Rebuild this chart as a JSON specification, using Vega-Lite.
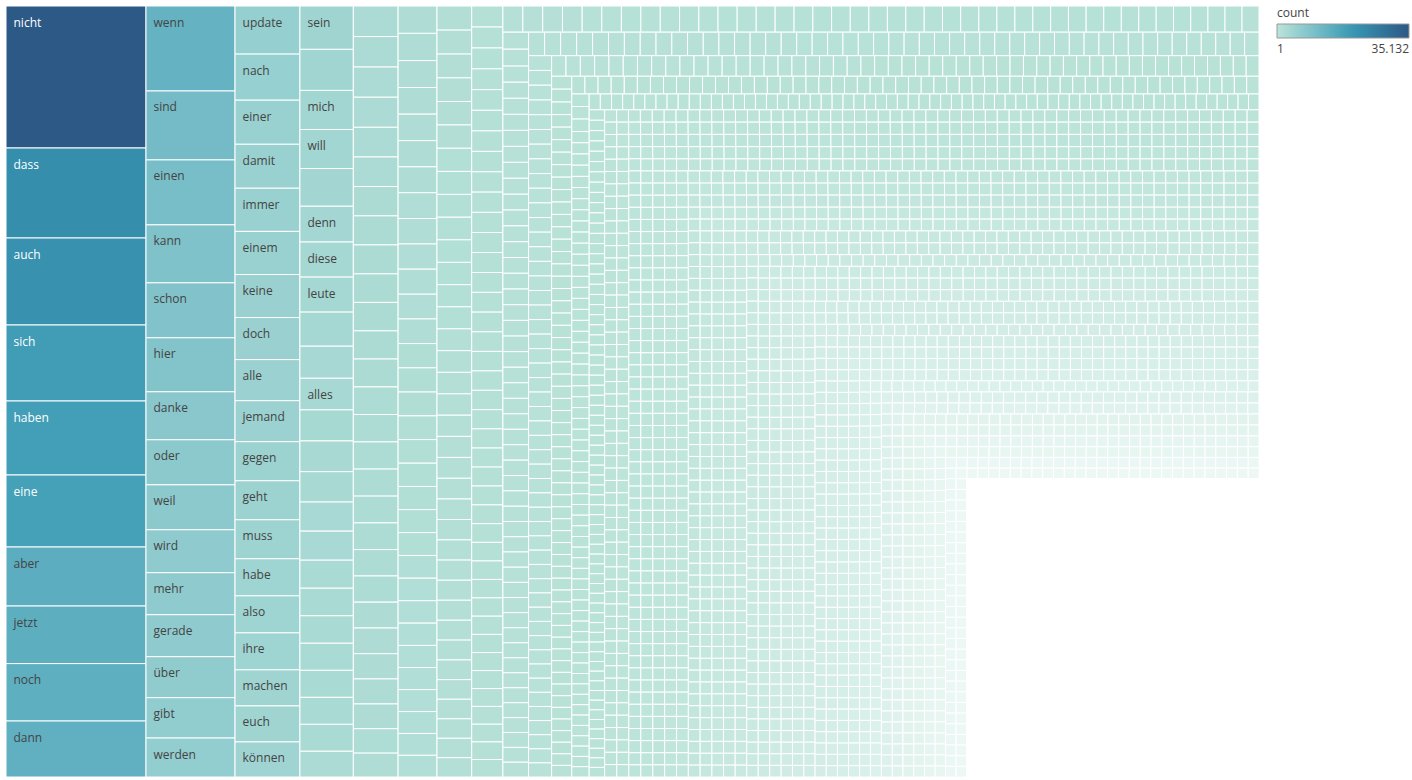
{
"$schema": "https://vega.github.io/schema/vega-lite/v6.json",
"width": 1253, "height": 771,
"padding": {"left": 5, "top": 5, "right": 0, "bottom": 0},
"autosize": {"type": "pad"},
"background": "white",
"config": {"view": {"stroke": null}, "font": "Open Sans"},
"data": {"values": [
{"w":"nicht","c":35132,"s":1},{"w":"dass","c":22266},{"w":"auch","c":21524},{"w":"sich","c":18802},{"w":"haben","c":18308},{"w":"eine","c":17813},{"w":"aber","c":14600},{"w":"jetzt","c":14250},{"w":"noch","c":14200},{"w":"dann","c":13850},
{"w":"wenn","c":13370,"s":2},{"w":"sind","c":10850},{"w":"einen","c":10220},{"w":"kann","c":9120},{"w":"schon","c":8650},{"w":"hier","c":8490},{"w":"danke","c":7550},{"w":"oder","c":7090},{"w":"weil","c":7070},{"w":"wird","c":6760},{"w":"mehr","c":6610},{"w":"gerade","c":6600},{"w":"über","c":6450},{"w":"gibt","c":6350},{"w":"werden","c":6130},
{"w":"update","c":5515,"s":3},{"w":"nach","c":5285},{"w":"einer","c":5056},{"w":"damit","c":5040},{"w":"immer","c":4950},{"w":"einem","c":4945},{"w":"keine","c":4930},{"w":"doch","c":4826},{"w":"alle","c":4711},{"w":"jemand","c":4700},{"w":"gegen","c":4481},{"w":"geht","c":4475},{"w":"muss","c":4470},{"w":"habe","c":4251},{"w":"also","c":4245},{"w":"ihre","c":4240},{"w":"machen","c":4136},{"w":"euch","c":4130},{"w":"können","c":4021},
{"w":"sein","c":4090,"s":4},{"c":3875},{"w":"mich","c":3690},{"w":"will","c":3680},{"c":3560},{"w":"denn","c":3375},{"w":"diese","c":3310},{"w":"leute","c":3305},{"c":3215},{"c":3025},{"w":"alles","c":2985},{"c":2930},{"c":2900},{"c":2865},{"c":2745},{"c":2740},{"c":2645},{"c":2600},{"c":2595},{"c":2555},{"c":2550},{"c":2545},{"c":2540},{"c":2430},
{"c":2420,"s":5},{"c":2410},{"c":2390},{"c":2380},{"c":2350},{"c":2340},{"c":2320},{"c":2300},{"c":2290},{"c":2260},{"c":2250},{"c":2230},{"c":2210},{"c":2180},{"c":2170},{"c":2150},{"c":2140},{"c":2120},{"c":2110},{"c":2090},{"c":2070},{"c":2050},{"c":2030},{"c":2000},{"c":1980},{"c":1960},{"c":1930},{"c":1890},
{"c":1880,"s":6},{"c":1870},{"c":1850},{"c":1830},{"c":1820},{"c":1800},{"c":1780},{"c":1770},{"c":1750},{"c":1730},{"c":1720},{"c":1700},{"c":1690},{"c":1670},{"c":1660},{"c":1640},{"c":1630},{"c":1620},{"c":1600},{"c":1590},{"c":1580},{"c":1570},{"c":1560},{"c":1550},{"c":1540},{"c":1530},{"c":1520},{"c":1515},{"c":1510},{"c":1505},{"c":1500},{"c":1490},
{"c":1480,"s":7},{"c":1470},{"c":1460},{"c":1450},{"c":1440},{"c":1430},{"c":1420},{"c":1410},{"c":1400},{"c":1390},{"c":1380},{"c":1370},{"c":1360},{"c":1350},{"c":1340},{"c":1330},{"c":1320},{"c":1310},{"c":1300},{"c":1290},{"c":1280},{"c":1270},{"c":1260},{"c":1250},{"c":1240},{"c":1235},{"c":1230},{"c":1225},{"c":1220},{"c":1215},{"c":1210},{"c":1205},{"c":1200},{"c":1195},{"c":1190},{"c":1185},
{"c":1160,"s":8},{"c":1155},{"c":1150},{"c":1145},{"c":1140},{"c":1135},{"c":1130},{"c":1125},{"c":1120},{"c":1115},{"c":1110},{"c":1105},{"c":1100},{"c":1095},{"c":1090},{"c":1085},{"c":1080},{"c":1075},{"c":1070},{"c":1065},{"c":1060},{"c":1055},{"c":1050},{"c":1045},{"c":1040},{"c":1035},{"c":1030},{"c":1025},{"c":1020},{"c":1015},{"c":1010},{"c":1005},{"c":1000},{"c":995},{"c":990},{"c":985},{"c":980},{"c":975},{"c":970},{"c":965},
{"c":917,"s":9},{"c":913},{"c":910},{"c":906},{"c":903},{"c":900},{"c":896},{"c":893},{"c":889},{"c":886},{"c":882},{"c":879},{"c":876},{"c":872},{"c":869},{"c":865},{"c":862},{"c":858},{"c":855},{"c":852},{"c":848},{"c":845},{"c":841},{"c":838},{"c":834},{"c":831},{"c":828},{"c":824},{"c":821},{"c":817},{"c":814},{"c":810},{"c":807},{"c":804},{"c":800},{"c":797},{"c":793},{"c":790},{"c":786},{"c":783},{"c":780},{"c":776},{"c":772},
{"c":735},{"c":734},{"c":732},{"c":731},{"c":730},{"c":728},{"c":727},{"c":726},{"c":724},{"c":723},{"c":722},{"c":720},{"c":719},{"c":718},{"c":716},{"c":715},{"c":714},{"c":712},{"c":711},{"c":710},{"c":708},{"c":707},{"c":706},{"c":704},{"c":703},{"c":702},{"c":700},{"c":699},{"c":698},{"c":696},{"c":695},{"c":694},{"c":692},{"c":691},{"c":690},{"c":688},{"c":687},{"c":686},{"c":684},{"c":683},{"c":682},{"c":680},{"c":679},{"c":678},{"c":676},{"c":675},
{"c":672,"s":10},{"c":670},{"c":669},{"c":667},{"c":666},{"c":664},{"c":663},{"c":661},{"c":660},{"c":658},{"c":657},{"c":655},{"c":654},{"c":652},{"c":651},{"c":649},{"c":648},{"c":646},{"c":645},{"c":643},{"c":642},{"c":640},{"c":639},{"c":637},{"c":636},{"c":634},{"c":633},{"c":631},{"c":630},{"c":628},{"c":627},{"c":625},{"c":624},{"c":622},{"c":621},{"c":619},{"c":618},{"c":616},{"c":615},{"c":613},{"c":612},{"c":610},{"c":609},{"c":607},{"c":606},{"c":604},{"c":603},{"c":601},
{"c":598},{"c":597},{"c":597},{"c":596},{"c":596},{"c":595},{"c":594},{"c":594},{"c":593},{"c":593},{"c":592},{"c":591},{"c":591},{"c":590},{"c":590},{"c":589},{"c":588},{"c":588},{"c":587},{"c":587},{"c":586},{"c":585},{"c":585},{"c":584},{"c":584},{"c":583},{"c":582},{"c":582},{"c":581},{"c":581},{"c":580},{"c":579},{"c":579},{"c":578},{"c":578},{"c":577},{"c":576},{"c":576},{"c":575},{"c":575},{"c":574},{"c":573},{"c":573},{"c":572},{"c":572},{"c":571},{"c":571},{"c":570},{"c":570},{"c":570},
{"c":520,"s":11},{"c":519},{"c":518},{"c":517},{"c":516},{"c":515},{"c":513},{"c":512},{"c":511},{"c":510},{"c":509},{"c":508},{"c":507},{"c":506},{"c":505},{"c":504},{"c":502},{"c":501},{"c":500},{"c":499},{"c":498},{"c":497},{"c":496},{"c":495},{"c":494},{"c":493},{"c":491},{"c":490},{"c":489},{"c":488},{"c":487},{"c":486},{"c":485},{"c":484},{"c":483},{"c":482},{"c":480},{"c":479},{"c":478},{"c":477},{"c":476},{"c":475},{"c":474},{"c":473},{"c":472},{"c":471},{"c":469},{"c":468},{"c":467},{"c":466},{"c":465},{"c":464},{"c":463},{"c":461},
{"c":450},{"c":449},{"c":449},{"c":448},{"c":447},{"c":447},{"c":446},{"c":445},{"c":445},{"c":444},{"c":443},{"c":443},{"c":442},{"c":441},{"c":441},{"c":440},{"c":439},{"c":439},{"c":438},{"c":437},{"c":437},{"c":436},{"c":435},{"c":435},{"c":434},{"c":433},{"c":433},{"c":432},{"c":431},{"c":431},{"c":430},{"c":429},{"c":429},{"c":428},{"c":427},{"c":427},{"c":426},{"c":425},{"c":425},{"c":424},{"c":423},{"c":423},{"c":422},{"c":421},{"c":421},{"c":420},{"c":419},{"c":419},{"c":418},{"c":417},{"c":417},{"c":416},{"c":416},{"c":415},{"c":415},{"c":415},
{"c":412,"s":12},{"c":412},{"c":411},{"c":411},{"c":410},{"c":410},{"c":409},{"c":409},{"c":408},{"c":408},{"c":407},{"c":407},{"c":406},{"c":406},{"c":405},{"c":405},{"c":404},{"c":404},{"c":403},{"c":403},{"c":402},{"c":402},{"c":401},{"c":401},{"c":400},{"c":400},{"c":399},{"c":399},{"c":398},{"c":398},{"c":397},{"c":397},{"c":396},{"c":396},{"c":395},{"c":395},{"c":394},{"c":394},{"c":393},{"c":393},{"c":392},{"c":392},{"c":391},{"c":391},{"c":390},{"c":390},{"c":389},{"c":389},{"c":388},{"c":388},{"c":387},{"c":387},{"c":386},{"c":386},{"c":385},{"c":385},{"c":384},
{"c":345},{"c":345},{"c":344},{"c":344},{"c":343},{"c":343},{"c":342},{"c":342},{"c":341},{"c":341},{"c":340},{"c":340},{"c":339},{"c":339},{"c":338},{"c":338},{"c":337},{"c":337},{"c":336},{"c":336},{"c":335},{"c":335},{"c":334},{"c":334},{"c":333},{"c":333},{"c":332},{"c":332},{"c":331},{"c":331},{"c":330},{"c":330},{"c":329},{"c":329},{"c":328},{"c":328},{"c":327},{"c":327},{"c":326},{"c":326},{"c":325},{"c":325},{"c":324},{"c":324},{"c":323},{"c":323},{"c":322},{"c":322},{"c":321},{"c":321},{"c":320},{"c":320},{"c":319},{"c":319},{"c":318},{"c":318},{"c":317},{"c":317},{"c":316},{"c":316},
{"c":310,"s":13},{"c":310},{"c":309},{"c":309},{"c":309},{"c":308},{"c":308},{"c":308},{"c":307},{"c":307},{"c":307},{"c":306},{"c":306},{"c":306},{"c":305},{"c":305},{"c":305},{"c":304},{"c":304},{"c":304},{"c":303},{"c":303},{"c":303},{"c":302},{"c":302},{"c":302},{"c":301},{"c":301},{"c":301},{"c":300},{"c":300},{"c":300},{"c":299},{"c":299},{"c":299},{"c":298},{"c":298},{"c":298},{"c":297},{"c":297},{"c":297},{"c":296},{"c":296},{"c":296},{"c":295},{"c":295},{"c":295},{"c":294},{"c":294},{"c":294},{"c":293},{"c":293},{"c":293},{"c":292},{"c":292},{"c":292},{"c":291},{"c":291},{"c":291},{"c":290},{"c":290},{"c":290},{"c":289},
{"c":285},{"c":285},{"c":285},{"c":284},{"c":284},{"c":284},{"c":283},{"c":283},{"c":283},{"c":282},{"c":282},{"c":282},{"c":281},{"c":281},{"c":281},{"c":280},{"c":280},{"c":280},{"c":279},{"c":279},{"c":279},{"c":278},{"c":278},{"c":278},{"c":277},{"c":277},{"c":277},{"c":276},{"c":276},{"c":276},{"c":275},{"c":275},{"c":275},{"c":274},{"c":274},{"c":274},{"c":273},{"c":273},{"c":273},{"c":272},{"c":272},{"c":272},{"c":271},{"c":271},{"c":271},{"c":270},{"c":270},{"c":270},{"c":269},{"c":269},{"c":269},{"c":268},{"c":268},{"c":268},{"c":267},{"c":267},{"c":267},{"c":266},{"c":266},{"c":266},{"c":265},{"c":265},{"c":265},{"c":264},{"c":264},{"c":264},
{"c":262,"s":14},{"c":262},{"c":262},{"c":262},{"c":262},{"c":262},{"c":262},{"c":262},{"c":262},{"c":262},
{"c":262},{"c":262},{"c":262},{"c":262},{"c":262},{"c":262},{"c":262},{"c":262},{"c":262},{"c":262},
{"c":262},{"c":262},{"c":262},{"c":262},{"c":262},{"c":262},{"c":262},{"c":262},{"c":262},{"c":262},
{"c":262},{"c":262},{"c":262},{"c":262},{"c":262},{"c":262},{"c":262},{"c":262},{"c":262},{"c":262},
{"c":262},{"c":262},{"c":262},{"c":262},{"c":262},{"c":262},{"c":262},{"c":262},{"c":262},{"c":262},
{"c":262},{"c":262},{"c":262},{"c":262},{"c":262},{"c":262},{"c":262},{"c":262},{"c":262},{"c":262},
{"c":262},{"c":262},{"c":262},{"c":262},{"c":262},{"c":262},{"c":262},{"c":262},{"c":262},{"c":262},
{"c":262},{"c":262},{"c":262},{"c":262},{"c":262},{"c":262},{"c":262},{"c":262},{"c":262},{"c":262},
{"c":262},{"c":262},{"c":262},{"c":262},{"c":262},{"c":262},{"c":262},{"c":262},{"c":262},{"c":262},
{"c":262},{"c":262},{"c":262},{"c":262},{"c":262},{"c":262},{"c":262},{"c":262},{"c":262},{"c":262},
{"c":262},{"c":262},{"c":262},{"c":262},{"c":262},{"c":262},{"c":262},{"c":262},
{"c":260,"s":15},{"c":260},{"c":260},{"c":260},{"c":260},{"c":260},{"c":260},{"c":260},{"c":260},{"c":260},
{"c":260},{"c":260},{"c":260},{"c":260},{"c":260},{"c":260},{"c":260},{"c":260},{"c":260},{"c":260},
{"c":260},{"c":260},{"c":260},{"c":260},{"c":260},{"c":260},{"c":260},{"c":260},{"c":260},{"c":260},
{"c":260},{"c":260},{"c":260},{"c":260},{"c":260},{"c":260},{"c":260},{"c":260},{"c":260},{"c":260},
{"c":260},{"c":260},{"c":260},{"c":260},{"c":260},{"c":260},{"c":260},{"c":260},{"c":260},{"c":260},
{"c":260},{"c":260},{"c":260},{"c":260},{"c":260},{"c":260},{"c":260},{"c":260},{"c":260},{"c":260},
{"c":260},{"c":260},{"c":260},{"c":260},{"c":260},{"c":260},{"c":260},{"c":260},{"c":260},{"c":260},
{"c":260},{"c":260},{"c":260},{"c":260},{"c":260},{"c":260},{"c":260},{"c":260},{"c":260},{"c":260},
{"c":260},{"c":260},{"c":260},{"c":260},{"c":260},{"c":260},{"c":260},{"c":260},{"c":260},{"c":260},
{"c":260},{"c":260},{"c":260},{"c":260},{"c":260},{"c":260},{"c":260},{"c":260},{"c":260},{"c":260},
{"c":260},{"c":260},{"c":260},{"c":260},{"c":260},{"c":260},
{"c":258,"s":16},{"c":258},{"c":258},{"c":258},{"c":258},{"c":258},{"c":258},{"c":258},{"c":258},{"c":258},
{"c":258},{"c":258},{"c":258},{"c":258},{"c":258},{"c":258},{"c":258},{"c":258},{"c":258},{"c":258},
{"c":258},{"c":258},{"c":258},{"c":258},{"c":258},{"c":258},{"c":258},{"c":258},{"c":258},{"c":258},
{"c":258},{"c":258},{"c":258},{"c":258},{"c":258},{"c":258},{"c":258},{"c":258},{"c":258},{"c":258},
{"c":258},{"c":258},{"c":258},{"c":258},{"c":258},{"c":258},{"c":258},{"c":258},{"c":258},{"c":258},
{"c":258},{"c":258},{"c":258},{"c":258},{"c":258},{"c":258},{"c":258},{"c":258},{"c":258},{"c":258},
{"c":258},{"c":258},{"c":258},{"c":258},{"c":258},{"c":258},{"c":258},{"c":258},{"c":258},{"c":258},
{"c":258},{"c":258},{"c":258},{"c":258},{"c":258},{"c":258},{"c":258},{"c":258},{"c":258},{"c":258},
{"c":258},{"c":258},{"c":258},{"c":258},{"c":258},{"c":258},{"c":258},{"c":258},{"c":258},{"c":258},
{"c":258},{"c":258},{"c":258},{"c":258},{"c":258},{"c":258},{"c":258},{"c":258},{"c":258},{"c":258},
{"c":258},{"c":258},{"c":258},{"c":258},{"c":258},
{"c":256,"s":17},{"c":256},{"c":256},{"c":256},{"c":256},{"c":256},{"c":256},{"c":256},{"c":256},{"c":256},
{"c":256},{"c":256},{"c":256},{"c":256},{"c":256},{"c":256},{"c":256},{"c":256},{"c":256},{"c":256},
{"c":256},{"c":256},{"c":256},{"c":256},{"c":256},{"c":256},{"c":256},{"c":256},{"c":256},{"c":256},
{"c":256},{"c":256},{"c":256},{"c":256},{"c":256},{"c":256},{"c":256},{"c":256},{"c":256},{"c":256},
{"c":256},{"c":256},{"c":256},{"c":256},{"c":256},{"c":256},{"c":256},{"c":256},{"c":256},{"c":256},
{"c":256},{"c":256},{"c":256},{"c":256},{"c":256},{"c":256},{"c":256},{"c":256},{"c":256},{"c":256},
{"c":256},{"c":256},{"c":256},{"c":256},{"c":256},{"c":256},{"c":256},{"c":256},{"c":256},{"c":256},
{"c":256},{"c":256},{"c":256},{"c":256},{"c":256},{"c":256},{"c":256},{"c":256},{"c":256},{"c":256},
{"c":256},{"c":256},{"c":256},{"c":256},{"c":256},{"c":256},{"c":256},{"c":256},{"c":256},{"c":256},
{"c":256},{"c":256},{"c":256},{"c":256},{"c":256},{"c":256},{"c":256},{"c":256},{"c":256},{"c":256},
{"c":256},{"c":256},{"c":256},
{"c":254,"s":18},{"c":254},{"c":254},{"c":254},{"c":254},{"c":254},{"c":254},{"c":254},{"c":254},{"c":254},
{"c":254},{"c":254},{"c":254},{"c":254},{"c":254},{"c":254},{"c":254},{"c":254},{"c":254},{"c":254},
{"c":254},{"c":254},{"c":254},{"c":254},{"c":254},{"c":254},{"c":254},{"c":254},{"c":254},{"c":254},
{"c":254},{"c":254},{"c":254},{"c":254},{"c":254},{"c":254},{"c":254},{"c":254},{"c":254},{"c":254},
{"c":254},{"c":254},{"c":254},{"c":254},{"c":254},{"c":254},{"c":254},{"c":254},{"c":254},{"c":254},
{"c":254},{"c":254},{"c":254},{"c":254},{"c":254},{"c":254},{"c":254},{"c":254},{"c":254},{"c":254},
{"c":254},{"c":254},{"c":254},{"c":254},{"c":254},{"c":254},{"c":254},{"c":254},{"c":254},{"c":254},
{"c":254},{"c":254},{"c":254},{"c":254},{"c":254},{"c":254},{"c":254},{"c":254},{"c":254},{"c":254},
{"c":254},{"c":254},{"c":254},{"c":254},{"c":254},{"c":254},{"c":254},{"c":254},{"c":254},{"c":254},
{"c":254},{"c":254},{"c":254},{"c":254},{"c":254},{"c":254},{"c":254},{"c":254},{"c":254},{"c":254},
{"c":254},
{"c":252,"s":19},{"c":252},{"c":252},{"c":252},{"c":252},{"c":252},{"c":252},{"c":252},{"c":252},{"c":252},
{"c":252},{"c":252},{"c":252},{"c":252},{"c":252},{"c":252},{"c":252},{"c":252},{"c":252},{"c":252},
{"c":252},{"c":252},{"c":252},{"c":252},{"c":252},{"c":252},{"c":252},{"c":252},{"c":252},{"c":252},
{"c":252},{"c":252},{"c":252},{"c":252},{"c":252},{"c":252},{"c":252},{"c":252},{"c":252},{"c":252},
{"c":252},{"c":252},{"c":252},{"c":252},{"c":252},{"c":252},{"c":252},{"c":252},{"c":252},{"c":252},
{"c":252},{"c":252},{"c":252},{"c":252},{"c":252},{"c":252},{"c":252},{"c":252},{"c":252},{"c":252},
{"c":252},{"c":252},{"c":252},{"c":252},{"c":252},{"c":252},{"c":252},{"c":252},{"c":252},{"c":252},
{"c":252},{"c":252},{"c":252},{"c":252},{"c":252},{"c":252},{"c":252},{"c":252},{"c":252},{"c":252},
{"c":252},{"c":252},{"c":252},{"c":252},{"c":252},{"c":252},{"c":252},{"c":252},{"c":252},{"c":252},
{"c":252},{"c":252},{"c":252},{"c":252},{"c":252},{"c":252},{"c":252},{"c":252},{"c":252},{"c":252},
{"c":250,"s":20},{"c":250},{"c":250},{"c":250},{"c":250},{"c":250},{"c":250},{"c":250},{"c":250},{"c":250},
{"c":250},{"c":250},{"c":250},{"c":250},{"c":250},{"c":250},{"c":250},{"c":250},{"c":250},{"c":250},
{"c":250},{"c":250},{"c":250},{"c":250},{"c":250},{"c":250},{"c":250},{"c":250},{"c":250},{"c":250},
{"c":250},{"c":250},{"c":250},{"c":250},{"c":250},{"c":250},{"c":250},{"c":250},{"c":250},{"c":250},
{"c":250},{"c":250},{"c":250},{"c":250},{"c":250},{"c":250},{"c":250},{"c":250},{"c":250},{"c":250},
{"c":250},{"c":250},{"c":250},{"c":250},{"c":250},{"c":250},{"c":250},{"c":250},{"c":250},{"c":250},
{"c":250},{"c":250},{"c":250},{"c":250},{"c":250},{"c":250},{"c":250},{"c":250},{"c":250},{"c":250},
{"c":250},{"c":250},{"c":250},{"c":250},{"c":250},{"c":250},{"c":250},{"c":250},{"c":250},{"c":250},
{"c":250},{"c":250},{"c":250},{"c":250},{"c":250},{"c":250},{"c":250},{"c":250},{"c":250},{"c":250},
{"c":250},{"c":250},{"c":250},{"c":250},{"c":250},{"c":250},{"c":250},{"c":250},
{"c":248,"s":21},{"c":248},{"c":248},{"c":248},{"c":248},{"c":248},{"c":248},{"c":248},{"c":248},{"c":248},
{"c":248},{"c":248},{"c":248},{"c":248},{"c":248},{"c":248},{"c":248},{"c":248},{"c":248},{"c":248},
{"c":248},{"c":248},{"c":248},{"c":248},{"c":248},{"c":248},{"c":248},{"c":248},{"c":248},{"c":248},
{"c":248},{"c":248},{"c":248},{"c":248},{"c":248},{"c":248},{"c":248},{"c":248},{"c":248},{"c":248},
{"c":248},{"c":248},{"c":248},{"c":248},{"c":248},{"c":248},{"c":248},{"c":248},{"c":248},{"c":248},
{"c":248},{"c":248},{"c":248},{"c":248},{"c":248},{"c":248},{"c":248},{"c":248},{"c":248},{"c":248},
{"c":248},{"c":248},{"c":248},{"c":248},{"c":248},{"c":248},{"c":248},{"c":248},{"c":248},{"c":248},
{"c":248},{"c":248},{"c":248},{"c":248},{"c":248},{"c":248},{"c":248},{"c":248},{"c":248},{"c":248},
{"c":248},{"c":248},{"c":248},{"c":248},{"c":248},{"c":248},{"c":248},{"c":248},{"c":248},{"c":248},
{"c":248},{"c":248},{"c":248},{"c":248},{"c":248},{"c":248},{"c":248},
{"c":246,"s":22},{"c":246},{"c":246},{"c":246},{"c":246},{"c":246},{"c":246},{"c":246},{"c":246},{"c":246},
{"c":246},{"c":246},{"c":246},{"c":246},{"c":246},{"c":246},{"c":246},{"c":246},{"c":246},{"c":246},
{"c":246},{"c":246},{"c":246},{"c":246},{"c":246},{"c":246},{"c":246},{"c":246},{"c":246},{"c":246},
{"c":246},{"c":246},{"c":246},{"c":246},{"c":246},{"c":246},{"c":246},{"c":246},{"c":246},{"c":246},
{"c":246},{"c":246},{"c":246},{"c":246},{"c":246},{"c":246},{"c":246},{"c":246},{"c":246},{"c":246},
{"c":246},{"c":246},{"c":246},{"c":246},{"c":246},{"c":246},{"c":246},{"c":246},{"c":246},{"c":246},
{"c":246},{"c":246},{"c":246},{"c":246},{"c":246},{"c":246},{"c":246},{"c":246},{"c":246},{"c":246},
{"c":246},{"c":246},{"c":246},{"c":246},{"c":246},{"c":246},{"c":246},{"c":246},{"c":246},{"c":246},
{"c":246},{"c":246},{"c":246},{"c":246},{"c":246},{"c":246},{"c":246},{"c":246},{"c":246},{"c":246},
{"c":246},{"c":246},{"c":246},{"c":246},{"c":246},
{"c":244,"s":23},{"c":244},{"c":244},{"c":244},{"c":244},{"c":244},{"c":244},{"c":244},{"c":244},{"c":244},
{"c":244},{"c":244},{"c":244},{"c":244},{"c":244},{"c":244},{"c":244},{"c":244},{"c":244},{"c":244},
{"c":244},{"c":244},{"c":244},{"c":244},{"c":244},{"c":244},{"c":244},{"c":244},{"c":244},{"c":244},
{"c":244},{"c":244},{"c":244},{"c":244},{"c":244},{"c":244},{"c":244},{"c":244},{"c":244},{"c":244},
{"c":244},{"c":244},{"c":244},{"c":244},{"c":244},{"c":244},{"c":244},{"c":244},{"c":244},{"c":244},
{"c":244},{"c":244},{"c":244},{"c":244},{"c":244},{"c":244},{"c":244},{"c":244},{"c":244},{"c":244},
{"c":244},{"c":244},{"c":244},{"c":244},{"c":244},{"c":244},{"c":244},{"c":244},{"c":244},{"c":244},
{"c":244},{"c":244},{"c":244},{"c":244},{"c":244},{"c":244},{"c":244},{"c":244},{"c":244},{"c":244},
{"c":244},{"c":244},{"c":244},{"c":244},{"c":244},{"c":244},{"c":244},{"c":244},{"c":244},{"c":244},
{"c":244},{"c":244},{"c":244},
{"c":242,"s":24},{"c":242},{"c":242},{"c":242},{"c":242},{"c":242},{"c":242},{"c":242},{"c":242},{"c":242},
{"c":242},{"c":242},{"c":242},{"c":242},{"c":242},{"c":242},{"c":242},{"c":242},{"c":242},{"c":242},
{"c":242},{"c":242},{"c":242},{"c":242},{"c":242},{"c":242},{"c":242},{"c":242},{"c":242},{"c":242},
{"c":242},{"c":242},{"c":242},{"c":242},{"c":242},{"c":242},{"c":242},{"c":242},{"c":242},{"c":242},
{"c":242},{"c":242},{"c":242},{"c":242},{"c":242},{"c":242},{"c":242},{"c":242},{"c":242},{"c":242},
{"c":242},{"c":242},{"c":242},{"c":242},{"c":242},{"c":242},{"c":242},{"c":242},{"c":242},{"c":242},
{"c":242},{"c":242},{"c":242},{"c":242},{"c":242},{"c":242},{"c":242},{"c":242},{"c":242},{"c":242},
{"c":242},{"c":242},{"c":242},{"c":242},{"c":242},{"c":242},{"c":242},{"c":242},{"c":242},{"c":242},
{"c":242},{"c":242},{"c":242},{"c":242},{"c":242},{"c":242},{"c":242},{"c":242},{"c":242},{"c":242},
{"c":242},{"c":242},
{"c":240,"s":25},{"c":240},{"c":240},{"c":240},{"c":240},{"c":240},{"c":240},{"c":240},{"c":240},{"c":240},
{"c":240},{"c":240},{"c":240},{"c":240},{"c":240},{"c":240},{"c":240},{"c":240},{"c":240},{"c":240},
{"c":240},{"c":240},{"c":240},{"c":240},{"c":240},{"c":240},{"c":240},{"c":240},{"c":240},{"c":240},
{"c":240},{"c":240},{"c":240},{"c":240},{"c":240},{"c":240},{"c":240},{"c":240},{"c":240},{"c":240},
{"c":240},{"c":240},{"c":240},{"c":240},{"c":240},{"c":240},{"c":240},{"c":240},{"c":240},{"c":240},
{"c":240},{"c":240},{"c":240},{"c":240},{"c":240},{"c":240},{"c":240},{"c":240},{"c":240},{"c":240},
{"c":240},{"c":240},{"c":240},{"c":240},{"c":240},{"c":240},{"c":240},{"c":240},{"c":240},{"c":240},
{"c":240},{"c":240},{"c":240},{"c":240},{"c":240},{"c":240},{"c":240},{"c":240},{"c":240},{"c":240},
{"c":240},{"c":240},{"c":240},{"c":240},{"c":240},{"c":240},{"c":240},{"c":240},{"c":240},{"c":240},
{"c":238,"s":26},{"c":238},{"c":238},{"c":238},{"c":238},{"c":238},{"c":238},{"c":238},{"c":238},{"c":238},
{"c":238},{"c":238},{"c":238},{"c":238},{"c":238},{"c":238},{"c":238},{"c":238},{"c":238},{"c":238},
{"c":238},{"c":238},{"c":238},{"c":238},{"c":238},{"c":238},{"c":238},{"c":238},{"c":238},{"c":238},
{"c":238},{"c":238},{"c":238},{"c":238},{"c":238},{"c":238},{"c":238},{"c":238},{"c":238},{"c":238},
{"c":238},{"c":238},{"c":238},{"c":238},{"c":238},{"c":238},{"c":238},{"c":238},{"c":238},{"c":238},
{"c":238},{"c":238},{"c":238},{"c":238},{"c":238},{"c":238},{"c":238},{"c":238},{"c":238},{"c":238},
{"c":238},{"c":238},{"c":238},{"c":238},{"c":238},{"c":238},{"c":238},{"c":238},{"c":238},{"c":238},
{"c":238},{"c":238},{"c":238},{"c":238},{"c":238},{"c":238},{"c":238},{"c":238},{"c":238},{"c":238},
{"c":238},{"c":238},{"c":238},{"c":238},{"c":238},{"c":238},{"c":238},{"c":238},
{"c":236,"s":27},{"c":236},{"c":236},{"c":236},{"c":236},{"c":236},{"c":236},{"c":236},{"c":236},{"c":236},
{"c":236},{"c":236},{"c":236},{"c":236},{"c":236},{"c":236},{"c":236},{"c":236},{"c":236},{"c":236},
{"c":236},{"c":236},{"c":236},{"c":236},{"c":236},{"c":236},{"c":236},{"c":236},{"c":236},{"c":236},
{"c":236},{"c":236},{"c":236},{"c":236},{"c":236},{"c":236},{"c":236},{"c":236},{"c":236},{"c":236},
{"c":236},{"c":236},{"c":236},{"c":236},{"c":236},{"c":236},{"c":236},{"c":236},{"c":236},{"c":236},
{"c":236},{"c":236},{"c":236},{"c":236},{"c":236},{"c":236},{"c":236},{"c":236},{"c":236},{"c":236},
{"c":236},{"c":236},{"c":236},{"c":236},{"c":236},{"c":236},{"c":236},{"c":236},{"c":236},{"c":236},
{"c":236},{"c":236},{"c":236},{"c":236},{"c":236},{"c":236},{"c":236},{"c":236},{"c":236},{"c":236},
{"c":236},{"c":236},{"c":236},{"c":236},{"c":236},{"c":236},{"c":236},
{"c":234,"s":28},{"c":234},{"c":234},{"c":234},{"c":234},{"c":234},{"c":234},{"c":234},{"c":234},{"c":234},
{"c":234},{"c":234},{"c":234},{"c":234},{"c":234},{"c":234},{"c":234},{"c":234},{"c":234},{"c":234},
{"c":234},{"c":234},{"c":234},{"c":234},{"c":234},{"c":234},{"c":234},{"c":234},{"c":234},{"c":234},
{"c":234},{"c":234},{"c":234},{"c":234},{"c":234},{"c":234},{"c":234},{"c":234},{"c":234},{"c":234},
{"c":234},{"c":234},{"c":234},{"c":234},{"c":234},{"c":234},{"c":234},{"c":234},{"c":234},{"c":234},
{"c":234},{"c":234},{"c":234},{"c":234},{"c":234},{"c":234},{"c":234},{"c":234},{"c":234},{"c":234},
{"c":234},{"c":234},{"c":234},{"c":234},{"c":234},{"c":234},{"c":234},{"c":234},{"c":234},{"c":234},
{"c":234},{"c":234},{"c":234},{"c":234},{"c":234},{"c":234},{"c":234},{"c":234},{"c":234},{"c":234},
{"c":234},{"c":234},{"c":234},{"c":234},{"c":234},
{"c":232,"s":29},{"c":232},{"c":232},{"c":232},{"c":232},{"c":232},{"c":232},{"c":232},{"c":232},{"c":232},
{"c":232},{"c":232},{"c":232},{"c":232},{"c":232},{"c":232},{"c":232},{"c":232},{"c":232},{"c":232},
{"c":232},{"c":232},{"c":232},{"c":232},{"c":232},{"c":232},{"c":232},{"c":232},{"c":232},{"c":232},
{"c":232},{"c":232},{"c":232},{"c":232},{"c":232},{"c":232},{"c":232},{"c":232},{"c":232},{"c":232},
{"c":232},{"c":232},{"c":232},{"c":232},{"c":232},{"c":232},{"c":232},{"c":232},{"c":232},{"c":232},
{"c":232},{"c":232},{"c":232},{"c":232},{"c":232},{"c":232},{"c":232},{"c":232},{"c":232},{"c":232},
{"c":232},{"c":232},{"c":232},{"c":232},{"c":232},{"c":232},{"c":232},{"c":232},{"c":232},{"c":232},
{"c":232},{"c":232},{"c":232},{"c":232},{"c":232},{"c":232},{"c":232},{"c":232},{"c":232},{"c":232},
{"c":232},{"c":232},{"c":232},
{"c":230,"s":30},{"c":230},{"c":230},{"c":230},{"c":230},{"c":230},{"c":230},{"c":230},{"c":230},{"c":230},
{"c":230},{"c":230},{"c":230},{"c":230},{"c":230},{"c":230},{"c":230},{"c":230},{"c":230},{"c":230},
{"c":230},{"c":230},{"c":230},{"c":230},{"c":230},{"c":230},{"c":230},{"c":230},{"c":230},{"c":230},
{"c":230},{"c":230},{"c":230},{"c":230},{"c":230},{"c":230},{"c":230},{"c":230},{"c":230},{"c":230},
{"c":230},{"c":230},{"c":230},{"c":230},{"c":230},{"c":230},{"c":230},{"c":230},{"c":230},{"c":230},
{"c":230},{"c":230},{"c":230},{"c":230},{"c":230},{"c":230},{"c":230},{"c":230},{"c":230},{"c":230},
{"c":230},{"c":230},{"c":230},{"c":230},{"c":230},{"c":230},{"c":230},{"c":230},{"c":230},{"c":230},
{"c":230},{"c":230},{"c":230},{"c":230},{"c":230},{"c":230},{"c":230},{"c":230},{"c":230},{"c":230},
{"c":230},{"c":230},
{"c":228,"s":31},{"c":228},{"c":228},{"c":228},{"c":228},{"c":228},{"c":228},{"c":228},{"c":228},{"c":228},
{"c":228},{"c":228},{"c":228},{"c":228},{"c":228},{"c":228},{"c":228},{"c":228},{"c":228},{"c":228},
{"c":228},{"c":228},{"c":228},{"c":228},{"c":228},{"c":228},{"c":228},{"c":228},{"c":228},{"c":228},
{"c":228},{"c":228},{"c":228},{"c":228},{"c":228},{"c":228},{"c":228},{"c":228},{"c":228},{"c":228},
{"c":228},{"c":228},{"c":228},{"c":228},{"c":228},{"c":228},{"c":228},{"c":228},{"c":228},{"c":228},
{"c":228},{"c":228},{"c":228},{"c":228},{"c":228},{"c":228},{"c":228},{"c":228},{"c":228},{"c":228},
{"c":228},{"c":228},{"c":228},{"c":228},{"c":228},{"c":228},{"c":228},{"c":228},{"c":228},{"c":228},
{"c":228},{"c":228},{"c":228},{"c":228},{"c":228},{"c":228},{"c":228},{"c":228},{"c":228},{"c":228},
{"c":226,"s":32},{"c":226},{"c":226},{"c":226},{"c":226},{"c":226},{"c":226},{"c":226},{"c":226},{"c":226},
{"c":226},{"c":226},{"c":226},{"c":226},{"c":226},{"c":226},{"c":226},{"c":226},{"c":226},{"c":226},
{"c":226},{"c":226},{"c":226},{"c":226},{"c":226},{"c":226},{"c":226},{"c":226},{"c":226},{"c":226},
{"c":226},{"c":226},{"c":226},{"c":226},{"c":226},{"c":226},{"c":226},{"c":226},{"c":226},{"c":226},
{"c":226},{"c":226},{"c":226},{"c":226},{"c":226},{"c":226},{"c":226},{"c":226},{"c":226},{"c":226},
{"c":226},{"c":226},{"c":226},{"c":226},{"c":226},{"c":226},{"c":226},{"c":226},{"c":226},{"c":226},
{"c":226},{"c":226},{"c":226},{"c":226},{"c":226},{"c":226},{"c":226},{"c":226},{"c":226},{"c":226},
{"c":226},{"c":226},{"c":226},{"c":226},{"c":226},{"c":226},{"c":226},{"c":226},
{"c":224,"s":33},{"c":224},{"c":224},{"c":224},{"c":224},{"c":224},{"c":224},{"c":224},{"c":224},{"c":224},
{"c":224},{"c":224},{"c":224},{"c":224},{"c":224},{"c":224},{"c":224},{"c":224},{"c":224},{"c":224},
{"c":224},{"c":224},{"c":224},{"c":224},{"c":224},{"c":224},{"c":224},{"c":224},{"c":224},{"c":224},
{"c":224},{"c":224},{"c":224},{"c":224},{"c":224},{"c":224},{"c":224},{"c":224},{"c":224},{"c":224},
{"c":224},{"c":224},{"c":224},{"c":224},{"c":224},{"c":224},{"c":224},{"c":224},{"c":224},{"c":224},
{"c":224},{"c":224},{"c":224},{"c":224},{"c":224},{"c":224},{"c":224},{"c":224},{"c":224},{"c":224},
{"c":224},{"c":224},{"c":224},{"c":224},{"c":224},{"c":224},{"c":224},{"c":224},{"c":224},{"c":224},
{"c":224},{"c":224},{"c":224},{"c":224},{"c":224},{"c":224},{"c":224},
{"c":222,"s":34},{"c":222},{"c":222},{"c":222},{"c":222},{"c":222},{"c":222},{"c":222},{"c":222},{"c":222},
{"c":222},{"c":222},{"c":222},{"c":222},{"c":222},{"c":222},{"c":222},{"c":222},{"c":222},{"c":222},
{"c":222},{"c":222},{"c":222},{"c":222},{"c":222},{"c":222},{"c":222},{"c":222},{"c":222},{"c":222},
{"c":222},{"c":222},{"c":222},{"c":222},{"c":222},{"c":222},{"c":222},{"c":222},{"c":222},{"c":222},
{"c":222},{"c":222},{"c":222},{"c":222},{"c":222},{"c":222},{"c":222},{"c":222},{"c":222},{"c":222},
{"c":222},{"c":222},{"c":222},{"c":222},{"c":222},{"c":222},{"c":222},{"c":222},{"c":222},{"c":222},
{"c":222},{"c":222},{"c":222},{"c":222},{"c":222},{"c":222},{"c":222},{"c":222},{"c":222},{"c":222},
{"c":222},{"c":222},{"c":222},{"c":222},{"c":222},
{"c":220,"s":35},{"c":220},{"c":220},{"c":220},{"c":220},{"c":220},{"c":220},{"c":220},{"c":220},{"c":220},
{"c":220},{"c":220},{"c":220},{"c":220},{"c":220},{"c":220},{"c":220},{"c":220},{"c":220},{"c":220},
{"c":220},{"c":220},{"c":220},{"c":220},{"c":220},{"c":220},{"c":220},{"c":220},{"c":220},{"c":220},
{"c":220},{"c":220},{"c":220},{"c":220},{"c":220},{"c":220},{"c":220},{"c":220},{"c":220},{"c":220},
{"c":220},{"c":220},{"c":220},{"c":220},{"c":220},{"c":220},{"c":220},{"c":220},{"c":220},{"c":220},
{"c":220},{"c":220},{"c":220},{"c":220},{"c":220},{"c":220},{"c":220},{"c":220},{"c":220},{"c":220},
{"c":220},{"c":220},{"c":220},{"c":220},{"c":220},{"c":220},{"c":220},{"c":220},{"c":220},{"c":220},
{"c":220},{"c":220},{"c":220},
{"c":218,"s":36},{"c":218},{"c":218},{"c":218},{"c":218},{"c":218},{"c":218},{"c":218},{"c":218},{"c":218},
{"c":218},{"c":218},{"c":218},{"c":218},{"c":218},{"c":218},{"c":218},{"c":218},{"c":218},{"c":218},
{"c":218},{"c":218},{"c":218},{"c":218},{"c":218},{"c":218},{"c":218},{"c":218},{"c":218},{"c":218},
{"c":218},{"c":218},{"c":218},{"c":218},{"c":218},{"c":218},{"c":218},{"c":218},{"c":218},{"c":218},
{"c":218},{"c":218},{"c":218},{"c":218},{"c":218},{"c":218},{"c":218},{"c":218},{"c":218},{"c":218},
{"c":218},{"c":218},{"c":218},{"c":218},{"c":218},{"c":218},{"c":218},{"c":218},{"c":218},{"c":218},
{"c":218},{"c":218},{"c":218},{"c":218},{"c":218},{"c":218},{"c":218},{"c":218},{"c":218},{"c":218},
{"c":218},
{"c":216,"s":37},{"c":216},{"c":216},{"c":216},{"c":216},{"c":216},{"c":216},{"c":216},{"c":216},{"c":216},
{"c":216},{"c":216},{"c":216},{"c":216},{"c":216},{"c":216},{"c":216},{"c":216},{"c":216},{"c":216},
{"c":216},{"c":216},{"c":216},{"c":216},{"c":216},{"c":216},{"c":216},{"c":216},{"c":216},{"c":216},
{"c":216},{"c":216},{"c":216},{"c":216},{"c":216},{"c":216},{"c":216},{"c":216},{"c":216},{"c":216},
{"c":216},{"c":216},{"c":216},{"c":216},{"c":216},{"c":216},{"c":216},{"c":216},{"c":216},{"c":216},
{"c":216},{"c":216},{"c":216},{"c":216},{"c":216},{"c":216},{"c":216},{"c":216},{"c":216},{"c":216},
{"c":216},{"c":216},{"c":216},{"c":216},{"c":216},{"c":216},{"c":216},{"c":216},{"c":216},{"c":216},
{"c":214,"s":38},{"c":214},{"c":214},{"c":214},{"c":214},{"c":214},{"c":214},{"c":214},{"c":214},{"c":214},
{"c":214},{"c":214},{"c":214},{"c":214},{"c":214},{"c":214},{"c":214},{"c":214},{"c":214},{"c":214},
{"c":214},{"c":214},{"c":214},{"c":214},{"c":214},{"c":214},{"c":214},{"c":214},{"c":214},{"c":214},
{"c":214},{"c":214},{"c":214},{"c":214},{"c":214},{"c":214},{"c":214},{"c":214},{"c":214},{"c":214},
{"c":214},{"c":214},{"c":214},{"c":214},{"c":214},{"c":214},{"c":214},{"c":214},{"c":214},{"c":214},
{"c":214},{"c":214},{"c":214},{"c":214},{"c":214},{"c":214},{"c":214},{"c":214},{"c":214},{"c":214},
{"c":214},{"c":214},{"c":214},{"c":214},{"c":214},{"c":214},{"c":214},{"c":214},
{"c":212,"s":39},{"c":212},{"c":212},{"c":212},{"c":212},{"c":212},{"c":212},{"c":212},{"c":212},{"c":212},
{"c":212},{"c":212},{"c":212},{"c":212},{"c":212},{"c":212},{"c":212},{"c":212},{"c":212},{"c":212},
{"c":212},{"c":212},{"c":212},{"c":212},{"c":212},{"c":212},{"c":212},{"c":212},{"c":212},{"c":212},
{"c":212},{"c":212},{"c":212},{"c":212},{"c":212},{"c":212},{"c":212},{"c":212},{"c":212},{"c":212},
{"c":212},{"c":212},{"c":212},{"c":212},{"c":212},{"c":212},{"c":212},{"c":212},{"c":212},{"c":212},
{"c":212},{"c":212},{"c":212},{"c":212},{"c":212},{"c":212},{"c":212},{"c":212},{"c":212},{"c":212},
{"c":212},{"c":212},{"c":212},{"c":212},{"c":212},{"c":212},
{"c":210,"s":40},{"c":210},{"c":210},{"c":210},{"c":210},{"c":210},{"c":210},{"c":210},{"c":210},{"c":210},
{"c":210},{"c":210},{"c":210},{"c":210},{"c":210},{"c":210},{"c":210},{"c":210},{"c":210},{"c":210},
{"c":210},{"c":210},{"c":210},{"c":210},{"c":210},{"c":210},{"c":210},{"c":210},{"c":210},{"c":210},
{"c":210},{"c":210},{"c":210},{"c":210},{"c":210},{"c":210},{"c":210},{"c":210},{"c":210},{"c":210},
{"c":210},{"c":210},{"c":210},{"c":210},{"c":210},{"c":210},{"c":210},{"c":210},{"c":210},{"c":210},
{"c":210},{"c":210},{"c":210},{"c":210},{"c":210},{"c":210},{"c":210},{"c":210},{"c":210},{"c":210},
{"c":210},{"c":210},{"c":210},{"c":210},{"c":210},
{"c":208,"s":41},{"c":208},{"c":208},{"c":208},{"c":208},{"c":208},{"c":208},{"c":208},{"c":208},{"c":208},
{"c":208},{"c":208},{"c":208},{"c":208},{"c":208},{"c":208},{"c":208},{"c":208},{"c":208},{"c":208},
{"c":208},{"c":208},{"c":208},{"c":208},{"c":208},{"c":208},{"c":208},{"c":208},{"c":208},{"c":208},
{"c":208},{"c":208},{"c":208},{"c":208},{"c":208},{"c":208},{"c":208},{"c":208},{"c":208},{"c":208},
{"c":208},{"c":208},{"c":208},{"c":208},{"c":208},{"c":208},{"c":208},{"c":208},{"c":208},{"c":208},
{"c":208},{"c":208},{"c":208},{"c":208},{"c":208},{"c":208},{"c":208},{"c":208},{"c":208},{"c":208},
{"c":208},{"c":208},{"c":208},
{"c":206,"s":42},{"c":206},{"c":206},{"c":206},{"c":206},{"c":206},{"c":206},{"c":206},{"c":206},{"c":206},
{"c":206},{"c":206},{"c":206},{"c":206},{"c":206},{"c":206},{"c":206},{"c":206},{"c":206},{"c":206},
{"c":206},{"c":206},{"c":206},{"c":206},{"c":206},{"c":206},{"c":206},{"c":206},{"c":206},{"c":206},
{"c":206},{"c":206},{"c":206},{"c":206},{"c":206},{"c":206},{"c":206},{"c":206},{"c":206},{"c":206},
{"c":206},{"c":206},{"c":206},{"c":206},{"c":206},{"c":206},{"c":206},{"c":206},{"c":206},{"c":206},
{"c":206},{"c":206},{"c":206},{"c":206},{"c":206},{"c":206},{"c":206},{"c":206},{"c":206},{"c":206},
{"c":206},
{"c":204,"s":43},{"c":204},{"c":204},{"c":204},{"c":204},{"c":204},{"c":204},{"c":204},{"c":204},{"c":204},
{"c":204},{"c":204},{"c":204},{"c":204},{"c":204},{"c":204},{"c":204},{"c":204},{"c":204},{"c":204},
{"c":204},{"c":204},{"c":204},{"c":204},{"c":204},{"c":204},{"c":204},{"c":204},{"c":204},{"c":204},
{"c":204},{"c":204},{"c":204},{"c":204},{"c":204},{"c":204},{"c":204},{"c":204},{"c":204},{"c":204},
{"c":204},{"c":204},{"c":204},{"c":204},{"c":204},{"c":204},{"c":204},{"c":204},{"c":204},{"c":204},
{"c":204},{"c":204},{"c":204},{"c":204},{"c":204},{"c":204},{"c":204},{"c":204},{"c":204},
{"c":202,"s":44},{"c":202},{"c":202},{"c":202},{"c":202},{"c":202},{"c":202},{"c":202},{"c":202},{"c":202},
{"c":202},{"c":202},{"c":202},{"c":202},{"c":202},{"c":202},{"c":202},{"c":202},{"c":202},{"c":202},
{"c":202},{"c":202},{"c":202},{"c":202},{"c":202},{"c":202},{"c":202},{"c":202},{"c":202},{"c":202},
{"c":202},{"c":202},{"c":202},{"c":202},{"c":202},{"c":202},{"c":202},{"c":202},{"c":202},{"c":202},
{"c":202},{"c":202},{"c":202},{"c":202},{"c":202},{"c":202},{"c":202},{"c":202},{"c":202},{"c":202},
{"c":202},{"c":202},{"c":202},{"c":202},{"c":202},{"c":202},{"c":202},{"c":202},
{"c":200,"s":45},{"c":200},{"c":200},{"c":200},{"c":200},{"c":200},{"c":200},{"c":200},{"c":200},{"c":200},
{"c":200},{"c":200},{"c":200},{"c":200},{"c":200},{"c":200},{"c":200},{"c":200},{"c":200},{"c":200},
{"c":200},{"c":200},{"c":200},{"c":200},{"c":200},{"c":200},{"c":200},{"c":200},{"c":200},{"c":200},
{"c":200},{"c":200},{"c":200},{"c":200},{"c":200},{"c":200},{"c":200},{"c":200},{"c":200},{"c":200},
{"c":200},{"c":200},{"c":200},{"c":200},{"c":200},{"c":200},{"c":200},{"c":200},{"c":200},{"c":200},
{"c":200},{"c":200},{"c":200},{"c":200},{"c":200},{"c":200},
{"c":154110,"s":46}
]},
"transform": [
{"window": [{"op": "row_number", "as": "i"}, {"op": "max", "field": "s", "as": "strip"}], "frame": [null, 0]},
{"joinaggregate": [{"op": "sum", "field": "c", "as": "T"}]},
{"calculate": "datum.strip <= 8 ? datum.c : 0", "as": "cc"},
{"joinaggregate": [{"op": "sum", "field": "cc", "as": "C0"}]},
{"joinaggregate": [{"op": "sum", "field": "c", "as": "S"}], "groupby": ["strip"]},
{"window": [{"op": "sum", "field": "c", "as": "cumAll"}], "sort": [{"field": "i"}], "frame": [null, 0]},
{"window": [{"op": "sum", "field": "c", "as": "cumW"}], "sort": [{"field": "i"}], "groupby": ["strip"], "frame": [null, 0]},
{"calculate": "datum.cumAll - datum.cumW", "as": "B"},
{"calculate": "datum.B + datum.S", "as": "E"},
{"calculate": "1 - datum.C0 / datum.T", "as": "aw"},
{"calculate": "sqrt(max(0, datum.T - datum.B) / (datum.T - datum.C0))", "as": "g0"},
{"calculate": "sqrt(max(0, datum.T - datum.E) / (datum.T - datum.C0))", "as": "g1"},
{"calculate": "datum.strip <= 8 ? 'v' : ((datum.cumW - datum.c / 2) / datum.S < datum.g0 / (datum.g0 + datum.g1) ? 'r' : 'q')", "as": "part"},
{"joinaggregate": [{"op": "sum", "field": "c", "as": "P"}], "groupby": ["strip", "part"]},
{"window": [{"op": "sum", "field": "c", "as": "cumP"}], "sort": [{"field": "i"}], "groupby": ["strip", "part"], "frame": [null, 0]},
{"calculate": "(datum.cumP - datum.c) / datum.P", "as": "p0"},
{"calculate": "datum.cumP / datum.P", "as": "p1"},
{"calculate": "datum.part == 'v' ? datum.B / datum.T : (datum.part == 'r' ? 1 - datum.aw * datum.g0 * (1 - datum.p0) : 1 - datum.aw * datum.g0)", "as": "x0"},
{"calculate": "datum.part == 'v' ? datum.E / datum.T : (datum.part == 'r' ? 1 - datum.aw * datum.g0 * (1 - datum.p1) : 1 - datum.aw * datum.g1)", "as": "x1"},
{"calculate": "datum.part == 'v' ? datum.p0 : (datum.part == 'r' ? 1 - datum.g0 : 1 - datum.g1 * (1 - datum.p0))", "as": "y0"},
{"calculate": "datum.part == 'v' ? datum.p1 : (datum.part == 'r' ? 1 - datum.g1 : 1 - datum.g1 * (1 - datum.p1))", "as": "y1"},
{"calculate": "(datum.T - (datum.B + datum.E) / 2) / datum.T", "as": "rf"}
],
"layer": [
{
"mark": {"type": "rect", "stroke": "#ffffff", "strokeWidth": 1},
"encoding": {
"x": {"field": "x0", "type": "quantitative", "scale": {"domain": [0, 1], "nice": false, "zero": false}, "axis": null},
"x2": {"field": "x1"},
"y": {"field": "y0", "type": "quantitative", "scale": {"domain": [0, 1], "nice": false, "zero": false, "reverse": true}, "axis": null},
"y2": {"field": "y1"},
"color": {"field": "c", "type": "quantitative", "title": "count",
"scale": {"scheme": "tealblues", "domain": [1, 35132]},
"legend": {"orient": "none", "legendX": 1271, "legendY": 2, "direction": "horizontal", "gradientLength": 132, "gradientThickness": 14, "gradientStrokeColor": "#999999", "gradientStrokeWidth": 1, "titleFontSize": 12, "titleFontWeight": "normal", "titleColor": "#444444", "titleFont": "Open Sans", "titlePadding": 4, "labelFontSize": 12, "labelColor": "#444444", "labelFont": "Open Sans", "labelOffset": 6, "values": [1, 35132], "labelExpr": "replace(format(datum.value, ','), ',', '.')", "padding": 0}},
"fillOpacity": {"field": "rf", "type": "quantitative", "scale": {"type": "linear", "domain": [0.06, 0.092, 0.12, 0.18, 0.26, 0.35, 0.45], "range": [0, 0.25, 0.4, 0.6, 0.75, 0.9, 1], "clamp": true}, "legend": null}
}
},
{
"transform": [{"filter": "isValid(datum.w)"}],
"mark": {"type": "text", "align": "left", "baseline": "alphabetic", "dx": 7.5, "dy": 20.5, "fontSize": 12, "font": "Open Sans"},
"encoding": {
"x": {"field": "x0", "type": "quantitative"},
"y": {"field": "y0", "type": "quantitative"},
"text": {"field": "w"},
"color": {"condition": {"test": "datum.c > 16000", "value": "#ffffff"}, "value": "#444444"}
}
}
]
}
